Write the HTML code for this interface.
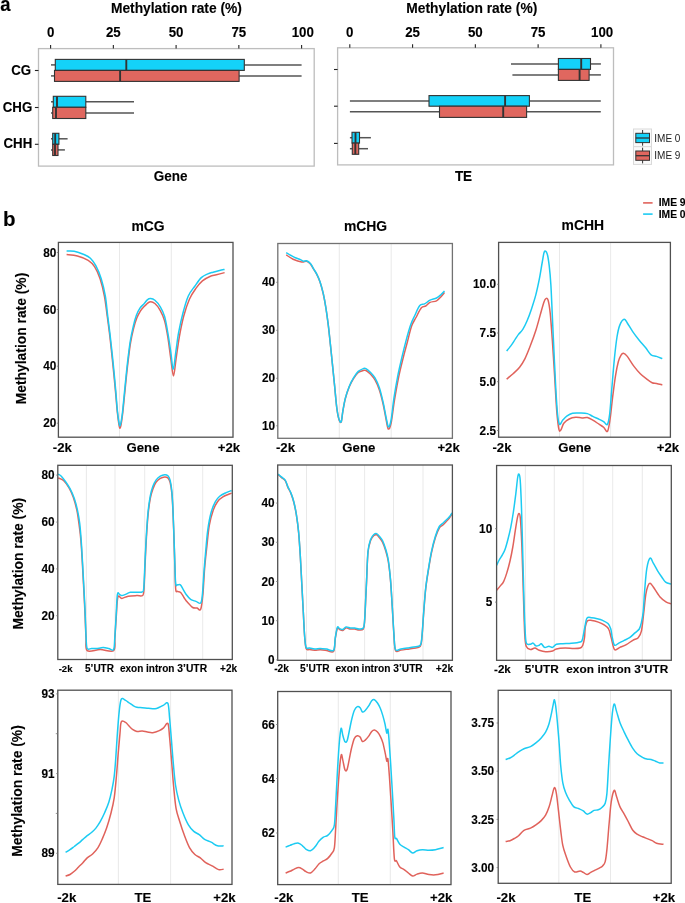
<!DOCTYPE html>
<html><head><meta charset="utf-8"><style>
html,body{margin:0;padding:0;background:#fff;width:685px;height:903px;overflow:hidden}
svg{display:block;will-change:transform}
text{font-family:"Liberation Sans", sans-serif}
text[font-weight=bold]{stroke:#000;stroke-width:0.12px;paint-order:stroke}
</style></head><body>
<svg width="685" height="903" viewBox="0 0 685 903" font-family='"Liberation Sans", sans-serif'>
<rect width="685" height="903" fill="#fff"/>
<text transform="translate(0.2,10.9) scale(1,1.12)" font-size="18.5" text-anchor="start" font-weight="bold" fill="#000" >a</text>
<text transform="translate(176.4,13) scale(1,1.05)" font-size="13.8" text-anchor="middle" font-weight="bold" fill="#000" >Methylation rate (%)</text>
<rect x="38.5" y="48.6" width="275.7" height="117.5" fill="none" stroke="#bdbdbd" stroke-width="1.3"/>
<line x1="50.6" y1="45.0" x2="50.6" y2="48.6" stroke="#222" stroke-width="1.1"/>
<text transform="translate(50.6,36.8) scale(1,1.09)" font-size="13.3" text-anchor="middle" font-weight="bold" fill="#000" >0</text>
<line x1="113.35000000000001" y1="45.0" x2="113.35000000000001" y2="48.6" stroke="#222" stroke-width="1.1"/>
<text transform="translate(113.35000000000001,36.8) scale(1,1.09)" font-size="13.3" text-anchor="middle" font-weight="bold" fill="#000" >25</text>
<line x1="176.10000000000002" y1="45.0" x2="176.10000000000002" y2="48.6" stroke="#222" stroke-width="1.1"/>
<text transform="translate(176.10000000000002,36.8) scale(1,1.09)" font-size="13.3" text-anchor="middle" font-weight="bold" fill="#000" >50</text>
<line x1="238.85000000000002" y1="45.0" x2="238.85000000000002" y2="48.6" stroke="#222" stroke-width="1.1"/>
<text transform="translate(238.85000000000002,36.8) scale(1,1.09)" font-size="13.3" text-anchor="middle" font-weight="bold" fill="#000" >75</text>
<line x1="301.6" y1="45.0" x2="301.6" y2="48.6" stroke="#222" stroke-width="1.1"/>
<text transform="translate(302.8,36.8) scale(1,1.09)" font-size="13.3" text-anchor="middle" font-weight="bold" fill="#000" >100</text>
<line x1="34.9" y1="70.5" x2="38.5" y2="70.5" stroke="#222" stroke-width="1.1"/>
<line x1="34.9" y1="107.5" x2="38.5" y2="107.5" stroke="#222" stroke-width="1.1"/>
<line x1="34.9" y1="144.3" x2="38.5" y2="144.3" stroke="#222" stroke-width="1.1"/>
<text transform="translate(170.6,181.4) scale(1,1.07)" font-size="13.5" text-anchor="middle" font-weight="bold" fill="#000" >Gene</text>
<line x1="51" y1="64.9" x2="55.3" y2="64.9" stroke="#555" stroke-width="1.5"/>
<line x1="244.3" y1="64.9" x2="301.6" y2="64.9" stroke="#555" stroke-width="1.5"/>
<rect x="55.3" y="59.4" width="189.0" height="11.0" fill="#14d2f9" stroke="#333333" stroke-width="1.1"/>
<line x1="126.3" y1="59.4" x2="126.3" y2="70.4" stroke="#333333" stroke-width="1.9"/>
<line x1="51" y1="75.9" x2="54.5" y2="75.9" stroke="#555" stroke-width="1.5"/>
<line x1="239.1" y1="75.9" x2="301.6" y2="75.9" stroke="#555" stroke-width="1.5"/>
<rect x="54.5" y="70.4" width="184.6" height="11.0" fill="#e0675f" stroke="#333333" stroke-width="1.1"/>
<line x1="120.1" y1="70.4" x2="120.1" y2="81.4" stroke="#333333" stroke-width="1.9"/>
<line x1="51" y1="101.8" x2="53.3" y2="101.8" stroke="#555" stroke-width="1.5"/>
<line x1="85.8" y1="101.8" x2="134" y2="101.8" stroke="#555" stroke-width="1.5"/>
<rect x="53.3" y="96.3" width="32.5" height="11.0" fill="#14d2f9" stroke="#333333" stroke-width="1.1"/>
<line x1="57.0" y1="96.3" x2="57.0" y2="107.3" stroke="#333333" stroke-width="1.9"/>
<line x1="51" y1="112.89999999999999" x2="52.7" y2="112.89999999999999" stroke="#555" stroke-width="1.5"/>
<line x1="85.8" y1="112.89999999999999" x2="134" y2="112.89999999999999" stroke="#555" stroke-width="1.5"/>
<rect x="52.7" y="107.3" width="33.099999999999994" height="11.2" fill="#e0675f" stroke="#333333" stroke-width="1.1"/>
<line x1="56.0" y1="107.3" x2="56.0" y2="118.5" stroke="#333333" stroke-width="1.9"/>
<line x1="51" y1="138.8" x2="52.7" y2="138.8" stroke="#555" stroke-width="1.5"/>
<line x1="58.9" y1="138.8" x2="67.6" y2="138.8" stroke="#555" stroke-width="1.5"/>
<rect x="52.7" y="133.3" width="6.199999999999996" height="11.0" fill="#14d2f9" stroke="#333333" stroke-width="1.1"/>
<line x1="55.2" y1="133.3" x2="55.2" y2="144.3" stroke="#333333" stroke-width="1.9"/>
<line x1="51" y1="149.9" x2="52.7" y2="149.9" stroke="#555" stroke-width="1.5"/>
<line x1="58.0" y1="149.9" x2="64.9" y2="149.9" stroke="#555" stroke-width="1.5"/>
<rect x="52.7" y="144.3" width="5.299999999999997" height="11.2" fill="#e0675f" stroke="#333333" stroke-width="1.1"/>
<line x1="55.0" y1="144.3" x2="55.0" y2="155.5" stroke="#333333" stroke-width="1.9"/>
<text transform="translate(31.1,75.2) scale(1,1.06)" font-size="13.3" text-anchor="end" font-weight="bold" fill="#000" >CG</text>
<text transform="translate(32.3,112) scale(1,1.06)" font-size="13.3" text-anchor="end" font-weight="bold" fill="#000" >CHG</text>
<text transform="translate(32.3,148.2) scale(1,1.06)" font-size="13.3" text-anchor="end" font-weight="bold" fill="#000" >CHH</text>
<text transform="translate(471.8,13) scale(1,1.05)" font-size="13.8" text-anchor="middle" font-weight="bold" fill="#000" >Methylation rate (%)</text>
<rect x="337.6" y="47.8" width="275.9" height="117.10000000000001" fill="none" stroke="#bdbdbd" stroke-width="1.3"/>
<line x1="349.8" y1="44.199999999999996" x2="349.8" y2="47.8" stroke="#222" stroke-width="1.1"/>
<text transform="translate(349.8,36.8) scale(1,1.09)" font-size="13.3" text-anchor="middle" font-weight="bold" fill="#000" >0</text>
<line x1="412.575" y1="44.199999999999996" x2="412.575" y2="47.8" stroke="#222" stroke-width="1.1"/>
<text transform="translate(412.575,36.8) scale(1,1.09)" font-size="13.3" text-anchor="middle" font-weight="bold" fill="#000" >25</text>
<line x1="475.35" y1="44.199999999999996" x2="475.35" y2="47.8" stroke="#222" stroke-width="1.1"/>
<text transform="translate(475.35,36.8) scale(1,1.09)" font-size="13.3" text-anchor="middle" font-weight="bold" fill="#000" >50</text>
<line x1="538.125" y1="44.199999999999996" x2="538.125" y2="47.8" stroke="#222" stroke-width="1.1"/>
<text transform="translate(538.125,36.8) scale(1,1.09)" font-size="13.3" text-anchor="middle" font-weight="bold" fill="#000" >75</text>
<line x1="600.9" y1="44.199999999999996" x2="600.9" y2="47.8" stroke="#222" stroke-width="1.1"/>
<text transform="translate(602.1,36.8) scale(1,1.09)" font-size="13.3" text-anchor="middle" font-weight="bold" fill="#000" >100</text>
<line x1="334.0" y1="69.5" x2="337.6" y2="69.5" stroke="#222" stroke-width="1.1"/>
<line x1="334.0" y1="106.2" x2="337.6" y2="106.2" stroke="#222" stroke-width="1.1"/>
<line x1="334.0" y1="143.4" x2="337.6" y2="143.4" stroke="#222" stroke-width="1.1"/>
<text transform="translate(463.5,181.4) scale(1,1.07)" font-size="13.5" text-anchor="middle" font-weight="bold" fill="#000" >TE</text>
<line x1="511" y1="63.95" x2="558.4" y2="63.95" stroke="#555" stroke-width="1.5"/>
<line x1="590.5" y1="63.95" x2="600.9" y2="63.95" stroke="#555" stroke-width="1.5"/>
<rect x="558.4" y="58.5" width="32.10000000000002" height="10.9" fill="#14d2f9" stroke="#333333" stroke-width="1.1"/>
<line x1="581.2" y1="58.5" x2="581.2" y2="69.4" stroke="#333333" stroke-width="1.9"/>
<line x1="512.4" y1="74.9" x2="558.4" y2="74.9" stroke="#555" stroke-width="1.5"/>
<line x1="589.1" y1="74.9" x2="600.9" y2="74.9" stroke="#555" stroke-width="1.5"/>
<rect x="558.4" y="69.4" width="30.700000000000045" height="11.0" fill="#e0675f" stroke="#333333" stroke-width="1.1"/>
<line x1="579.6" y1="69.4" x2="579.6" y2="80.4" stroke="#333333" stroke-width="1.9"/>
<line x1="349.9" y1="100.89999999999999" x2="429" y2="100.89999999999999" stroke="#555" stroke-width="1.5"/>
<line x1="529.4" y1="100.89999999999999" x2="600.8" y2="100.89999999999999" stroke="#555" stroke-width="1.5"/>
<rect x="429" y="95.6" width="100.39999999999998" height="10.6" fill="#14d2f9" stroke="#333333" stroke-width="1.1"/>
<line x1="505.1" y1="95.6" x2="505.1" y2="106.19999999999999" stroke="#333333" stroke-width="1.9"/>
<line x1="349.9" y1="111.8" x2="439.5" y2="111.8" stroke="#555" stroke-width="1.5"/>
<line x1="526.6" y1="111.8" x2="600.8" y2="111.8" stroke="#555" stroke-width="1.5"/>
<rect x="439.5" y="106.2" width="87.10000000000002" height="11.2" fill="#e0675f" stroke="#333333" stroke-width="1.1"/>
<line x1="503.2" y1="106.2" x2="503.2" y2="117.4" stroke="#333333" stroke-width="1.9"/>
<line x1="349.9" y1="137.70000000000002" x2="352" y2="137.70000000000002" stroke="#555" stroke-width="1.5"/>
<line x1="359.5" y1="137.70000000000002" x2="370.9" y2="137.70000000000002" stroke="#555" stroke-width="1.5"/>
<rect x="352" y="132.3" width="7.5" height="10.8" fill="#14d2f9" stroke="#333333" stroke-width="1.1"/>
<line x1="355.5" y1="132.3" x2="355.5" y2="143.10000000000002" stroke="#333333" stroke-width="1.9"/>
<line x1="349.9" y1="148.7" x2="352.3" y2="148.7" stroke="#555" stroke-width="1.5"/>
<line x1="358.7" y1="148.7" x2="368" y2="148.7" stroke="#555" stroke-width="1.5"/>
<rect x="352.3" y="143.1" width="6.399999999999977" height="11.2" fill="#e0675f" stroke="#333333" stroke-width="1.1"/>
<line x1="355.3" y1="143.1" x2="355.3" y2="154.29999999999998" stroke="#333333" stroke-width="1.9"/>
<rect x="633.5" y="129.0" width="18" height="17.7" fill="#fafafa" stroke="#d9d9d9" stroke-width="1"/>
<line x1="642.6" y1="130.0" x2="642.6" y2="145.7" stroke="#333333" stroke-width="1"/>
<rect x="635.8" y="133.3" width="13.7" height="9.3" fill="#14d2f9" stroke="#333333" stroke-width="1"/>
<line x1="635.8" y1="138.0" x2="649.5" y2="138.0" stroke="#333333" stroke-width="1.3"/>
<text x="654.3" y="141.6" font-size="10" text-anchor="start" font-weight="normal" fill="#222" >IME 0</text>
<rect x="633.5" y="146.7" width="18" height="17.7" fill="#fafafa" stroke="#d9d9d9" stroke-width="1"/>
<line x1="642.6" y1="147.7" x2="642.6" y2="163.39999999999998" stroke="#333333" stroke-width="1"/>
<rect x="635.8" y="151.0" width="13.7" height="9.3" fill="#e0675f" stroke="#333333" stroke-width="1"/>
<line x1="635.8" y1="155.7" x2="649.5" y2="155.7" stroke="#333333" stroke-width="1.3"/>
<text x="654.3" y="159.29999999999998" font-size="10" text-anchor="start" font-weight="normal" fill="#222" >IME 9</text>
<text x="2.9" y="225.8" font-size="20.5" text-anchor="start" font-weight="bold" fill="#000" >b</text>
<line x1="643.1" y1="202.9" x2="652.6" y2="202.9" stroke="#e0625b" stroke-width="1.6"/>
<line x1="643.1" y1="214.1" x2="652.6" y2="214.1" stroke="#1ccbf2" stroke-width="1.6"/>
<text x="658.7" y="205.9" font-size="10.3" text-anchor="start" font-weight="bold" fill="#000" >IME 9</text>
<text x="658.7" y="218.0" font-size="10.3" text-anchor="start" font-weight="bold" fill="#000" >IME 0</text>
<line x1="119.5" y1="242.4" x2="119.5" y2="437.2" stroke="#e3e3e3" stroke-width="0.8"/>
<line x1="171.3" y1="242.4" x2="171.3" y2="437.2" stroke="#e3e3e3" stroke-width="0.8"/>
<path d="M66.60,254.50 C68.40,254.75 73.80,255.03 77.40,256.00 C81.00,256.97 85.32,258.50 88.20,260.30 C91.08,262.10 92.72,263.73 94.70,266.80 C96.68,269.87 98.48,273.83 100.10,278.70 C101.72,283.57 103.23,289.92 104.40,296.00 C105.57,302.08 106.25,308.97 107.10,315.20 C107.95,321.43 108.73,327.08 109.50,333.40 C110.27,339.72 111.00,346.53 111.70,353.10 C112.40,359.67 113.05,366.22 113.70,372.80 C114.35,379.38 115.02,386.27 115.60,392.60 C116.18,398.93 116.65,405.48 117.20,410.80 C117.75,416.12 118.47,421.60 118.90,424.50 C119.33,427.40 119.45,428.12 119.80,428.20 C120.15,428.28 120.53,427.37 121.00,425.00 C121.47,422.63 122.02,418.92 122.60,414.00 C123.18,409.08 123.88,401.58 124.50,395.50 C125.12,389.42 125.67,383.50 126.30,377.50 C126.93,371.50 127.60,365.25 128.30,359.50 C129.00,353.75 129.62,348.20 130.50,343.00 C131.38,337.80 132.55,332.47 133.60,328.30 C134.65,324.13 135.70,320.83 136.80,318.00 C137.90,315.17 139.17,313.00 140.20,311.30 C141.23,309.60 141.45,309.35 143.00,307.80 C144.55,306.25 147.52,302.72 149.50,302.00 C151.48,301.28 153.10,302.07 154.90,303.50 C156.70,304.93 158.68,307.72 160.30,310.60 C161.92,313.48 163.35,316.40 164.60,320.80 C165.85,325.20 166.77,330.70 167.80,337.00 C168.83,343.30 169.85,352.10 170.80,358.60 C171.75,365.10 172.62,376.00 173.50,376.00 C174.38,376.00 175.13,365.10 176.10,358.60 C177.07,352.10 178.05,344.02 179.30,337.00 C180.55,329.98 181.92,322.80 183.60,316.50 C185.28,310.20 187.35,303.88 189.40,299.20 C191.45,294.52 193.73,291.45 195.90,288.40 C198.07,285.35 200.07,282.88 202.40,280.90 C204.73,278.92 207.57,277.52 209.90,276.50 C212.23,275.48 213.95,275.45 216.40,274.80 C218.85,274.15 223.23,272.97 224.60,272.60" fill="none" stroke="#e0625b" stroke-width="1.5" stroke-linejoin="round"/>
<path d="M66.60,251.10 C67.87,251.13 71.32,250.73 74.20,251.30 C77.08,251.87 81.20,253.35 83.90,254.50 C86.60,255.65 88.42,256.33 90.40,258.20 C92.38,260.07 94.00,262.28 95.80,265.70 C97.60,269.12 99.62,273.65 101.20,278.70 C102.78,283.75 104.23,289.92 105.30,296.00 C106.37,302.08 106.83,308.97 107.60,315.20 C108.37,321.43 109.15,327.08 109.90,333.40 C110.65,339.72 111.40,346.53 112.10,353.10 C112.80,359.67 113.47,366.22 114.10,372.80 C114.73,379.38 115.35,386.27 115.90,392.60 C116.45,398.93 116.88,405.75 117.40,410.80 C117.92,415.85 118.60,420.38 119.00,422.90 C119.40,425.42 119.48,425.90 119.80,425.90 C120.12,425.90 120.45,425.17 120.90,422.90 C121.35,420.63 121.93,417.10 122.50,412.30 C123.07,407.50 123.70,400.17 124.30,394.10 C124.90,388.03 125.47,381.97 126.10,375.90 C126.73,369.83 127.40,363.52 128.10,357.70 C128.80,351.88 129.42,346.32 130.30,341.00 C131.18,335.68 132.38,330.10 133.40,325.80 C134.42,321.50 135.33,318.12 136.40,315.20 C137.47,312.28 138.48,310.25 139.80,308.30 C141.12,306.35 143.05,304.92 144.30,303.50 C145.55,302.08 146.25,300.62 147.30,299.80 C148.35,298.98 149.33,298.52 150.60,298.60 C151.87,298.68 153.28,298.93 154.90,300.30 C156.52,301.67 158.68,304.10 160.30,306.80 C161.92,309.50 163.35,312.18 164.60,316.50 C165.85,320.82 166.77,326.77 167.80,332.70 C168.83,338.63 169.90,345.97 170.80,352.10 C171.70,358.23 172.37,369.50 173.20,369.50 C174.03,369.50 174.90,358.23 175.80,352.10 C176.70,345.97 177.42,339.18 178.60,332.70 C179.78,326.22 181.28,319.32 182.90,313.20 C184.52,307.08 186.32,300.50 188.30,296.00 C190.28,291.50 192.63,289.27 194.80,286.20 C196.97,283.13 199.13,279.65 201.30,277.60 C203.47,275.55 205.83,274.80 207.80,273.90 C209.77,273.00 211.13,272.77 213.10,272.20 C215.07,271.63 217.68,270.97 219.60,270.50 C221.52,270.03 223.77,269.58 224.60,269.40" fill="none" stroke="#1ccbf2" stroke-width="1.5" stroke-linejoin="round"/>
<rect x="58.4" y="242.4" width="174.6" height="194.79999999999998" fill="none" stroke="#505050" stroke-width="1.3"/>
<line x1="56.8" y1="252.5" x2="58.4" y2="252.5" stroke="#777" stroke-width="0.8"/>
<text transform="translate(56.3,256.6) scale(1,1.04)" font-size="11.8" text-anchor="end" font-weight="bold" fill="#000" >80</text>
<line x1="56.8" y1="309.5" x2="58.4" y2="309.5" stroke="#777" stroke-width="0.8"/>
<text transform="translate(56.3,313.6) scale(1,1.04)" font-size="11.8" text-anchor="end" font-weight="bold" fill="#000" >60</text>
<line x1="56.8" y1="366.2" x2="58.4" y2="366.2" stroke="#777" stroke-width="0.8"/>
<text transform="translate(56.3,370.3) scale(1,1.04)" font-size="11.8" text-anchor="end" font-weight="bold" fill="#000" >40</text>
<line x1="56.8" y1="423.2" x2="58.4" y2="423.2" stroke="#777" stroke-width="0.8"/>
<text transform="translate(56.3,427.3) scale(1,1.04)" font-size="11.8" text-anchor="end" font-weight="bold" fill="#000" >20</text>
<text x="62.4" y="451.6" font-size="13.2" text-anchor="middle" font-weight="bold" fill="#000" >-2k</text>
<text x="143" y="451.6" font-size="13.2" text-anchor="middle" font-weight="bold" fill="#000" >Gene</text>
<text x="229" y="451.6" font-size="13.2" text-anchor="middle" font-weight="bold" fill="#000" >+2k</text>
<text transform="translate(148,231.2) scale(1,1.06)" font-size="13.9" text-anchor="middle" font-weight="bold" fill="#000" >mCG</text>
<text transform="translate(26.4,338.5) rotate(-90)" font-size="13.85" text-anchor="middle" font-weight="bold">Methylation rate (%)</text>
<line x1="339.3" y1="243.5" x2="339.3" y2="438.3" stroke="#e3e3e3" stroke-width="0.8"/>
<line x1="391.2" y1="243.5" x2="391.2" y2="438.3" stroke="#e3e3e3" stroke-width="0.8"/>
<path d="M286.20,254.90 C287.35,255.62 290.52,258.02 293.10,259.20 C295.68,260.38 299.47,261.67 301.70,262.00 C303.93,262.33 305.05,260.87 306.50,261.20 C307.95,261.53 309.22,262.67 310.40,264.00 C311.58,265.33 312.52,267.43 313.60,269.20 C314.68,270.97 315.82,272.43 316.90,274.60 C317.98,276.77 319.03,278.97 320.10,282.20 C321.17,285.43 322.33,289.70 323.30,294.00 C324.27,298.30 325.07,302.78 325.90,308.00 C326.73,313.22 327.55,319.18 328.30,325.30 C329.05,331.42 329.72,338.22 330.40,344.70 C331.08,351.18 331.70,357.35 332.40,364.20 C333.10,371.05 333.88,378.62 334.60,385.80 C335.32,392.98 335.98,401.73 336.70,407.30 C337.42,412.87 338.15,416.75 338.90,419.20 C339.65,421.65 340.55,423.25 341.20,422.00 C341.85,420.75 342.12,415.58 342.80,411.70 C343.48,407.82 344.23,402.82 345.30,398.70 C346.37,394.58 347.83,390.35 349.20,387.00 C350.57,383.65 351.98,381.02 353.50,378.60 C355.02,376.18 356.67,373.85 358.30,372.50 C359.93,371.15 362.02,370.83 363.30,370.50 C364.58,370.17 364.78,369.88 366.00,370.50 C367.22,371.12 369.10,372.62 370.60,374.20 C372.10,375.78 373.55,377.40 375.00,380.00 C376.45,382.60 377.93,385.72 379.30,389.80 C380.67,393.88 382.05,399.47 383.20,404.50 C384.35,409.53 385.35,415.92 386.20,420.00 C387.05,424.08 387.48,428.47 388.30,429.00 C389.12,429.53 390.08,427.93 391.10,423.20 C392.12,418.47 393.13,408.33 394.40,400.60 C395.67,392.87 397.27,383.82 398.70,376.80 C400.13,369.78 401.57,364.25 403.00,358.50 C404.43,352.75 405.87,347.70 407.30,342.30 C408.73,336.90 410.15,330.23 411.60,326.10 C413.05,321.97 414.37,320.55 416.00,317.50 C417.63,314.45 419.78,309.72 421.40,307.80 C423.02,305.88 424.27,306.90 425.70,306.00 C427.13,305.10 428.20,303.27 430.00,302.40 C431.80,301.53 434.70,301.70 436.50,300.80 C438.30,299.90 439.47,298.37 440.80,297.00 C442.13,295.63 443.88,293.33 444.50,292.60" fill="none" stroke="#e0625b" stroke-width="1.5" stroke-linejoin="round"/>
<path d="M286.20,252.70 C287.00,253.17 289.48,254.67 291.00,255.50 C292.52,256.33 293.87,257.08 295.30,257.70 C296.73,258.32 298.23,258.60 299.60,259.20 C300.97,259.80 302.35,261.05 303.50,261.30 C304.65,261.55 305.35,260.33 306.50,260.70 C307.65,261.07 309.22,262.13 310.40,263.50 C311.58,264.87 312.52,267.10 313.60,268.90 C314.68,270.70 315.82,272.13 316.90,274.30 C317.98,276.47 319.03,278.67 320.10,281.90 C321.17,285.13 322.33,289.38 323.30,293.70 C324.27,298.02 325.07,302.58 325.90,307.80 C326.73,313.02 327.55,318.90 328.30,325.00 C329.05,331.10 329.72,337.92 330.40,344.40 C331.08,350.88 331.70,357.05 332.40,363.90 C333.10,370.75 333.88,378.32 334.60,385.50 C335.32,392.68 335.98,401.43 336.70,407.00 C337.42,412.57 338.15,416.45 338.90,418.90 C339.65,421.35 340.55,422.95 341.20,421.70 C341.85,420.45 342.12,415.28 342.80,411.40 C343.48,407.52 344.23,402.55 345.30,398.40 C346.37,394.25 347.83,389.92 349.20,386.50 C350.57,383.08 351.98,380.42 353.50,377.90 C355.02,375.38 356.67,372.95 358.30,371.40 C359.93,369.85 362.03,369.07 363.30,368.60 C364.57,368.13 364.68,367.95 365.90,368.60 C367.12,369.25 369.08,370.95 370.60,372.50 C372.12,374.05 373.55,375.38 375.00,377.90 C376.45,380.42 377.93,383.47 379.30,387.60 C380.67,391.73 382.05,397.67 383.20,402.70 C384.35,407.73 385.32,413.77 386.20,417.80 C387.08,421.83 387.68,426.53 388.50,426.90 C389.32,427.27 390.20,424.75 391.10,420.00 C392.00,415.25 392.82,405.60 393.90,398.40 C394.98,391.20 396.27,383.63 397.60,376.80 C398.93,369.97 400.47,363.52 401.90,357.40 C403.33,351.28 404.75,345.50 406.20,340.10 C407.65,334.70 409.15,329.13 410.60,325.00 C412.05,320.87 413.37,318.53 414.90,315.30 C416.43,312.07 418.18,307.50 419.80,305.60 C421.42,303.70 422.90,304.80 424.60,303.90 C426.30,303.00 428.02,301.18 430.00,300.20 C431.98,299.22 434.70,298.90 436.50,298.00 C438.30,297.10 439.47,295.98 440.80,294.80 C442.13,293.62 443.88,291.55 444.50,290.90" fill="none" stroke="#1ccbf2" stroke-width="1.5" stroke-linejoin="round"/>
<rect x="277.8" y="243.5" width="174.59999999999997" height="194.8" fill="none" stroke="#727272" stroke-width="1.3"/>
<line x1="276.2" y1="282.3" x2="277.8" y2="282.3" stroke="#777" stroke-width="0.8"/>
<text transform="translate(275,286.40000000000003) scale(1,1.04)" font-size="11.8" text-anchor="end" font-weight="bold" fill="#000" >40</text>
<line x1="276.2" y1="330.3" x2="277.8" y2="330.3" stroke="#777" stroke-width="0.8"/>
<text transform="translate(275,334.40000000000003) scale(1,1.04)" font-size="11.8" text-anchor="end" font-weight="bold" fill="#000" >30</text>
<line x1="276.2" y1="378.3" x2="277.8" y2="378.3" stroke="#777" stroke-width="0.8"/>
<text transform="translate(275,382.40000000000003) scale(1,1.04)" font-size="11.8" text-anchor="end" font-weight="bold" fill="#000" >20</text>
<line x1="276.2" y1="425.8" x2="277.8" y2="425.8" stroke="#777" stroke-width="0.8"/>
<text transform="translate(275,429.90000000000003) scale(1,1.04)" font-size="11.8" text-anchor="end" font-weight="bold" fill="#000" >10</text>
<text x="285.5" y="451.8" font-size="13.2" text-anchor="middle" font-weight="bold" fill="#000" >-2k</text>
<text x="358.8" y="451.8" font-size="13.2" text-anchor="middle" font-weight="bold" fill="#000" >Gene</text>
<text x="448.6" y="451.8" font-size="13.2" text-anchor="middle" font-weight="bold" fill="#000" >+2k</text>
<text transform="translate(365.5,231.3) scale(1,1.06)" font-size="13.9" text-anchor="middle" font-weight="bold" fill="#000" >mCHG</text>
<line x1="559.5" y1="242.4" x2="559.5" y2="437.2" stroke="#e3e3e3" stroke-width="0.8"/>
<line x1="610.6" y1="242.4" x2="610.6" y2="437.2" stroke="#e3e3e3" stroke-width="0.8"/>
<path d="M506.60,379.10 C507.68,378.20 510.93,375.68 513.10,373.70 C515.27,371.72 517.62,369.72 519.60,367.20 C521.58,364.68 523.20,362.20 525.00,358.60 C526.80,355.00 528.60,350.28 530.40,345.60 C532.20,340.92 534.18,335.53 535.80,330.50 C537.42,325.47 538.77,320.08 540.10,315.40 C541.43,310.72 542.83,305.20 543.80,302.40 C544.77,299.60 545.18,298.95 545.90,298.60 C546.62,298.25 547.38,297.87 548.10,300.30 C548.82,302.73 549.48,306.37 550.20,313.20 C550.92,320.03 551.67,330.87 552.40,341.30 C553.13,351.73 553.88,364.28 554.60,375.80 C555.32,387.32 555.98,401.47 556.70,410.40 C557.42,419.33 558.18,426.17 558.90,429.40 C559.62,432.63 560.18,430.82 561.00,429.80 C561.82,428.78 562.43,425.10 563.80,423.30 C565.17,421.50 567.22,420.00 569.20,419.00 C571.18,418.00 573.57,417.48 575.70,417.30 C577.83,417.12 580.05,417.87 582.00,417.90 C583.95,417.93 585.60,417.13 587.40,417.50 C589.20,417.87 590.82,418.95 592.80,420.10 C594.78,421.25 597.50,423.22 599.30,424.40 C601.10,425.58 602.23,426.05 603.60,427.20 C604.97,428.35 606.42,432.67 607.50,431.30 C608.58,429.93 609.25,424.65 610.10,419.00 C610.95,413.35 611.70,404.60 612.60,397.40 C613.50,390.20 614.55,381.73 615.50,375.80 C616.45,369.87 617.40,365.22 618.30,361.80 C619.20,358.38 620.05,356.73 620.90,355.30 C621.75,353.87 622.33,353.02 623.40,353.20 C624.47,353.38 625.57,354.25 627.30,356.40 C629.03,358.55 631.63,363.22 633.80,366.10 C635.97,368.98 638.13,371.53 640.30,373.70 C642.47,375.87 644.83,377.60 646.80,379.10 C648.77,380.60 650.48,381.98 652.10,382.70 C653.72,383.42 654.80,383.03 656.50,383.40 C658.20,383.77 661.33,384.65 662.30,384.90" fill="none" stroke="#e0625b" stroke-width="1.5" stroke-linejoin="round"/>
<path d="M506.60,351.00 C507.33,350.10 509.55,347.58 511.00,345.60 C512.45,343.62 514.05,340.97 515.30,339.10 C516.55,337.23 517.25,336.02 518.50,334.40 C519.75,332.78 521.37,331.67 522.80,329.40 C524.23,327.13 525.65,324.22 527.10,320.80 C528.55,317.38 530.05,313.22 531.50,308.90 C532.95,304.58 534.48,299.93 535.80,294.90 C537.12,289.87 538.33,284.10 539.40,278.70 C540.47,273.30 541.37,267.00 542.20,262.50 C543.03,258.00 543.57,253.13 544.40,251.70 C545.23,250.27 546.40,251.57 547.20,253.90 C548.00,256.23 548.58,260.48 549.20,265.70 C549.82,270.92 550.37,276.57 550.90,285.20 C551.43,293.83 551.87,306.00 552.40,317.50 C552.93,329.00 553.53,342.32 554.10,354.20 C554.67,366.08 555.22,378.72 555.80,388.80 C556.38,398.88 556.98,408.77 557.60,414.70 C558.22,420.63 558.63,423.50 559.50,424.40 C560.37,425.30 561.53,421.53 562.80,420.10 C564.07,418.67 565.48,416.95 567.10,415.80 C568.72,414.65 570.35,413.67 572.50,413.20 C574.65,412.73 577.52,412.93 580.00,413.00 C582.48,413.07 585.27,413.03 587.40,413.60 C589.53,414.17 590.82,415.43 592.80,416.40 C594.78,417.37 597.50,418.53 599.30,419.40 C601.10,420.27 602.27,420.77 603.60,421.60 C604.93,422.43 606.30,425.55 607.30,424.40 C608.30,423.25 608.85,420.63 609.60,414.70 C610.35,408.77 611.00,398.15 611.80,388.80 C612.60,379.45 613.53,367.23 614.40,358.60 C615.27,349.97 616.10,342.58 617.00,337.00 C617.90,331.42 618.62,328.05 619.80,325.10 C620.98,322.15 622.85,319.65 624.10,319.30 C625.35,318.95 625.87,320.95 627.30,323.00 C628.73,325.05 630.72,328.73 632.70,331.60 C634.68,334.47 637.03,337.50 639.20,340.20 C641.37,342.90 643.72,345.35 645.70,347.80 C647.68,350.25 649.30,353.47 651.10,354.90 C652.90,356.33 654.63,355.78 656.50,356.40 C658.37,357.02 661.33,358.23 662.30,358.60" fill="none" stroke="#1ccbf2" stroke-width="1.5" stroke-linejoin="round"/>
<rect x="498.6" y="242.4" width="171.79999999999995" height="194.79999999999998" fill="none" stroke="#505050" stroke-width="1.3"/>
<line x1="497.0" y1="284.3" x2="498.6" y2="284.3" stroke="#777" stroke-width="0.8"/>
<text transform="translate(496,288.40000000000003) scale(1,1.04)" font-size="11.8" text-anchor="end" font-weight="bold" fill="#000" >10.0</text>
<line x1="497.0" y1="333" x2="498.6" y2="333" stroke="#777" stroke-width="0.8"/>
<text transform="translate(496,337.1) scale(1,1.04)" font-size="11.8" text-anchor="end" font-weight="bold" fill="#000" >7.5</text>
<line x1="497.0" y1="381.7" x2="498.6" y2="381.7" stroke="#777" stroke-width="0.8"/>
<text transform="translate(496,385.8) scale(1,1.04)" font-size="11.8" text-anchor="end" font-weight="bold" fill="#000" >5.0</text>
<line x1="497.0" y1="430.5" x2="498.6" y2="430.5" stroke="#777" stroke-width="0.8"/>
<text transform="translate(496,434.6) scale(1,1.04)" font-size="11.8" text-anchor="end" font-weight="bold" fill="#000" >2.5</text>
<text x="502" y="452.4" font-size="13.2" text-anchor="middle" font-weight="bold" fill="#000" >-2k</text>
<text x="574.7" y="452.4" font-size="13.2" text-anchor="middle" font-weight="bold" fill="#000" >Gene</text>
<text x="667.9" y="452.4" font-size="13.2" text-anchor="middle" font-weight="bold" fill="#000" >+2k</text>
<text transform="translate(582.8,229.5) scale(1,1.06)" font-size="13.9" text-anchor="middle" font-weight="bold" fill="#000" >mCHH</text>
<line x1="86.4" y1="465.3" x2="86.4" y2="659.5" stroke="#e3e3e3" stroke-width="0.8"/>
<line x1="115" y1="465.3" x2="115" y2="659.5" stroke="#e3e3e3" stroke-width="0.8"/>
<line x1="144.7" y1="465.3" x2="144.7" y2="659.5" stroke="#e3e3e3" stroke-width="0.8"/>
<line x1="173.5" y1="465.3" x2="173.5" y2="659.5" stroke="#e3e3e3" stroke-width="0.8"/>
<line x1="202.7" y1="465.3" x2="202.7" y2="659.5" stroke="#e3e3e3" stroke-width="0.8"/>
<path d="M58.10,477.90 C59.00,478.33 61.70,478.87 63.50,480.50 C65.30,482.13 67.28,484.95 68.90,487.70 C70.52,490.45 71.87,493.23 73.20,497.00 C74.53,500.77 75.90,505.57 76.90,510.30 C77.90,515.03 78.53,520.37 79.20,525.40 C79.87,530.43 80.38,534.38 80.90,540.50 C81.42,546.62 81.85,554.53 82.30,562.10 C82.75,569.67 83.17,577.62 83.60,585.90 C84.03,594.18 84.50,603.17 84.90,611.80 C85.30,620.43 85.62,631.23 86.00,637.70 C86.38,644.17 84.83,648.63 87.20,650.60 C89.57,652.57 95.80,649.50 100.20,649.50 C104.60,649.50 111.15,652.57 113.60,650.60 C116.05,648.63 114.45,643.45 114.90,637.70 C115.35,631.95 115.80,622.87 116.30,616.10 C116.80,609.33 116.98,600.05 117.90,597.10 C118.82,594.15 120.08,598.55 121.80,598.40 C123.52,598.25 125.68,596.67 128.20,596.20 C130.72,595.73 134.55,595.70 136.90,595.60 C139.25,595.50 141.13,596.45 142.30,595.60 C143.47,594.75 143.43,595.77 143.90,590.50 C144.37,585.23 144.68,572.75 145.10,564.00 C145.52,555.25 145.90,546.25 146.40,538.00 C146.90,529.75 147.45,521.12 148.10,514.50 C148.75,507.88 149.50,502.55 150.30,498.30 C151.10,494.05 151.95,491.67 152.90,489.00 C153.85,486.33 154.77,484.07 156.00,482.30 C157.23,480.53 158.85,479.30 160.30,478.40 C161.75,477.50 163.43,476.97 164.70,476.90 C165.97,476.83 167.00,477.10 167.90,478.00 C168.80,478.90 169.45,479.80 170.10,482.30 C170.75,484.80 171.33,488.35 171.80,493.00 C172.27,497.65 172.55,503.02 172.90,510.20 C173.25,517.38 173.58,527.12 173.90,536.10 C174.22,545.08 174.50,555.27 174.80,564.10 C175.10,572.93 175.23,584.57 175.70,589.10 C176.17,593.63 176.73,590.68 177.60,591.30 C178.47,591.92 179.82,591.73 180.90,592.80 C181.98,593.87 183.03,596.15 184.10,597.70 C185.17,599.25 185.87,600.47 187.30,602.10 C188.73,603.73 191.08,606.50 192.70,607.50 C194.32,608.50 195.67,607.82 197.00,608.10 C198.33,608.38 199.72,611.47 200.70,609.20 C201.68,606.93 202.25,601.27 202.90,594.50 C203.55,587.73 203.95,576.52 204.60,568.60 C205.25,560.68 206.02,554.20 206.80,547.00 C207.58,539.80 208.23,531.52 209.30,525.40 C210.37,519.28 211.83,514.25 213.20,510.30 C214.57,506.35 215.88,503.93 217.50,501.70 C219.12,499.47 220.55,498.33 222.90,496.90 C225.25,495.47 230.15,493.73 231.60,493.10" fill="none" stroke="#e0625b" stroke-width="1.5" stroke-linejoin="round"/>
<path d="M58.10,474.10 C58.63,474.45 60.05,474.92 61.30,476.20 C62.55,477.48 64.15,479.72 65.60,481.80 C67.05,483.88 68.55,485.92 70.00,488.70 C71.45,491.48 73.05,494.90 74.30,498.50 C75.55,502.10 76.60,506.17 77.50,510.30 C78.40,514.43 79.08,518.27 79.70,523.30 C80.32,528.33 80.73,534.03 81.20,540.50 C81.67,546.97 82.07,554.53 82.50,562.10 C82.93,569.67 83.37,577.62 83.80,585.90 C84.23,594.18 84.72,603.17 85.10,611.80 C85.48,620.43 85.75,631.58 86.10,637.70 C86.45,643.82 86.30,646.70 87.20,648.50 C88.10,650.30 90.05,648.50 91.50,648.50 C92.95,648.50 94.45,648.58 95.90,648.50 C97.35,648.42 98.95,648.15 100.20,648.00 C101.45,647.85 101.97,647.52 103.40,647.60 C104.83,647.68 107.10,648.18 108.80,648.50 C110.50,648.82 112.60,651.30 113.60,649.50 C114.60,647.70 114.38,643.27 114.80,637.70 C115.22,632.13 115.67,623.30 116.10,616.10 C116.53,608.90 116.82,598.10 117.40,594.50 C117.98,590.90 118.87,594.32 119.60,594.50 C120.33,594.68 120.72,595.67 121.80,595.60 C122.88,595.53 124.67,594.65 126.10,594.10 C127.53,593.55 128.60,592.60 130.40,592.30 C132.20,592.00 134.92,592.37 136.90,592.30 C138.88,592.23 141.15,592.70 142.30,591.90 C143.45,591.10 143.35,592.47 143.80,587.50 C144.25,582.53 144.58,570.65 145.00,562.10 C145.42,553.55 145.80,544.47 146.30,536.20 C146.80,527.93 147.35,519.15 148.00,512.50 C148.65,505.85 149.40,500.62 150.20,496.30 C151.00,491.98 151.83,489.30 152.80,486.60 C153.77,483.90 154.75,481.83 156.00,480.10 C157.25,478.37 158.85,477.10 160.30,476.20 C161.75,475.30 163.43,474.77 164.70,474.70 C165.97,474.63 167.00,474.90 167.90,475.80 C168.80,476.70 169.45,477.58 170.10,480.10 C170.75,482.62 171.33,486.22 171.80,490.90 C172.27,495.58 172.55,501.00 172.90,508.20 C173.25,515.40 173.58,525.12 173.90,534.10 C174.22,543.08 174.50,553.83 174.80,562.10 C175.10,570.37 175.23,579.92 175.70,583.70 C176.17,587.48 176.82,584.62 177.60,584.80 C178.38,584.98 179.50,584.08 180.40,584.80 C181.30,585.52 182.03,587.48 183.00,589.10 C183.97,590.72 184.93,592.80 186.20,594.50 C187.47,596.20 188.97,598.15 190.60,599.30 C192.23,600.45 194.32,600.77 196.00,601.40 C197.68,602.03 199.63,604.25 200.70,603.10 C201.77,601.95 201.87,599.53 202.40,594.50 C202.93,589.47 203.35,580.10 203.90,572.90 C204.45,565.70 205.05,558.48 205.70,551.30 C206.35,544.12 206.90,536.27 207.80,529.80 C208.70,523.33 209.83,517.18 211.10,512.50 C212.37,507.82 213.97,504.40 215.40,501.70 C216.83,499.00 217.90,497.82 219.70,496.30 C221.50,494.78 224.22,493.57 226.20,492.60 C228.18,491.63 230.70,490.85 231.60,490.50" fill="none" stroke="#1ccbf2" stroke-width="1.5" stroke-linejoin="round"/>
<rect x="57.8" y="465.3" width="174.5" height="194.2" fill="none" stroke="#505050" stroke-width="1.3"/>
<line x1="56.199999999999996" y1="475.1" x2="57.8" y2="475.1" stroke="#777" stroke-width="0.8"/>
<text transform="translate(54.5,479.20000000000005) scale(1,1.04)" font-size="11.8" text-anchor="end" font-weight="bold" fill="#000" >80</text>
<line x1="56.199999999999996" y1="522.1" x2="57.8" y2="522.1" stroke="#777" stroke-width="0.8"/>
<text transform="translate(54.5,526.2) scale(1,1.04)" font-size="11.8" text-anchor="end" font-weight="bold" fill="#000" >60</text>
<line x1="56.199999999999996" y1="568.9" x2="57.8" y2="568.9" stroke="#777" stroke-width="0.8"/>
<text transform="translate(54.5,573.0) scale(1,1.04)" font-size="11.8" text-anchor="end" font-weight="bold" fill="#000" >40</text>
<line x1="56.199999999999996" y1="615.7" x2="57.8" y2="615.7" stroke="#777" stroke-width="0.8"/>
<text transform="translate(54.5,619.8000000000001) scale(1,1.04)" font-size="11.8" text-anchor="end" font-weight="bold" fill="#000" >20</text>
<text x="65.6" y="671.9" font-size="9.6" text-anchor="middle" font-weight="bold" fill="#000" >-2k</text>
<text x="99.5" y="671.9" font-size="10" text-anchor="middle" font-weight="bold" fill="#000" >5’UTR</text>
<text x="131.6" y="671.9" font-size="10" text-anchor="middle" font-weight="bold" fill="#000" >exon</text>
<text x="160.2" y="671.9" font-size="10" text-anchor="middle" font-weight="bold" fill="#000" >intron</text>
<text x="192.2" y="671.9" font-size="10.3" text-anchor="middle" font-weight="bold" fill="#000" >3’UTR</text>
<text x="228.6" y="671.9" font-size="10" text-anchor="middle" font-weight="bold" fill="#000" >+2k</text>
<text transform="translate(22.7,563.7) rotate(-90)" font-size="13.85" text-anchor="middle" font-weight="bold">Methylation rate (%)</text>
<line x1="306.5" y1="465.0" x2="306.5" y2="660.3" stroke="#e3e3e3" stroke-width="0.8"/>
<line x1="335.4" y1="465.0" x2="335.4" y2="660.3" stroke="#e3e3e3" stroke-width="0.8"/>
<line x1="364.6" y1="465.0" x2="364.6" y2="660.3" stroke="#e3e3e3" stroke-width="0.8"/>
<line x1="393.5" y1="465.0" x2="393.5" y2="660.3" stroke="#e3e3e3" stroke-width="0.8"/>
<line x1="423" y1="465.0" x2="423" y2="660.3" stroke="#e3e3e3" stroke-width="0.8"/>
<path d="M278.10,474.60 C278.63,475.07 280.12,476.40 281.30,477.40 C282.48,478.40 284.12,478.98 285.20,480.60 C286.28,482.22 286.83,484.93 287.80,487.10 C288.77,489.27 290.00,491.08 291.00,493.60 C292.00,496.12 292.90,498.62 293.80,502.20 C294.70,505.78 295.60,510.07 296.40,515.10 C297.20,520.13 297.95,525.55 298.60,532.40 C299.25,539.25 299.77,547.57 300.30,556.20 C300.83,564.83 301.30,574.85 301.80,584.20 C302.30,593.55 302.83,603.67 303.30,612.30 C303.77,620.93 304.13,629.95 304.60,636.00 C305.07,642.05 305.30,646.35 306.10,648.60 C306.90,650.85 307.95,649.23 309.40,649.50 C310.85,649.77 313.00,650.15 314.80,650.20 C316.60,650.25 318.23,649.77 320.20,649.80 C322.17,649.83 324.37,650.15 326.60,650.40 C328.83,650.65 332.15,653.28 333.60,651.30 C335.05,649.32 334.67,642.33 335.30,638.50 C335.93,634.67 336.68,629.78 337.40,628.30 C338.12,626.82 338.70,629.23 339.60,629.60 C340.50,629.97 341.72,630.78 342.80,630.50 C343.88,630.22 344.83,628.15 346.10,627.90 C347.37,627.65 348.97,628.82 350.40,629.00 C351.83,629.18 353.27,628.83 354.70,629.00 C356.13,629.17 357.57,630.00 359.00,630.00 C360.43,630.00 362.37,630.43 363.30,629.00 C364.23,627.57 364.17,626.98 364.60,621.40 C365.03,615.82 365.57,602.23 365.90,595.50 C366.23,588.77 366.25,588.20 366.60,581.00 C366.95,573.80 367.33,559.05 368.00,552.30 C368.67,545.55 369.62,543.30 370.60,540.50 C371.58,537.70 372.88,536.45 373.90,535.50 C374.92,534.55 375.80,534.45 376.70,534.80 C377.60,535.15 378.33,536.37 379.30,537.60 C380.27,538.83 381.43,540.02 382.50,542.20 C383.57,544.38 384.73,547.48 385.70,550.70 C386.67,553.92 387.50,556.55 388.30,561.50 C389.10,566.45 389.85,572.93 390.50,580.40 C391.15,587.87 391.63,597.30 392.20,606.30 C392.77,615.30 393.35,627.03 393.90,634.40 C394.45,641.77 394.33,647.88 395.50,650.50 C396.67,653.12 398.93,650.32 400.90,650.10 C402.87,649.88 405.15,649.52 407.30,649.20 C409.45,648.88 411.63,648.67 413.80,648.20 C415.97,647.73 418.93,648.35 420.30,646.40 C421.67,644.45 421.43,642.10 422.00,636.50 C422.57,630.90 423.08,620.72 423.70,612.80 C424.32,604.88 424.90,596.20 425.70,589.00 C426.50,581.80 427.53,575.67 428.50,569.60 C429.47,563.53 430.35,557.95 431.50,552.60 C432.65,547.25 434.10,541.60 435.40,537.50 C436.70,533.40 438.05,530.08 439.30,528.00 C440.55,525.92 441.75,526.08 442.90,525.00 C444.05,523.92 445.12,522.67 446.20,521.50 C447.28,520.33 448.43,519.25 449.40,518.00 C450.37,516.75 451.57,514.67 452.00,514.00" fill="none" stroke="#e0625b" stroke-width="1.5" stroke-linejoin="round"/>
<path d="M278.10,474.10 C278.63,474.57 280.12,475.90 281.30,476.90 C282.48,477.90 284.12,478.48 285.20,480.10 C286.28,481.72 286.83,484.43 287.80,486.60 C288.77,488.77 290.00,490.58 291.00,493.10 C292.00,495.62 292.90,498.12 293.80,501.70 C294.70,505.28 295.60,509.57 296.40,514.60 C297.20,519.63 297.95,525.05 298.60,531.90 C299.25,538.75 299.77,547.07 300.30,555.70 C300.83,564.33 301.30,574.35 301.80,583.70 C302.30,593.05 302.83,603.17 303.30,611.80 C303.77,620.43 304.13,629.57 304.60,635.50 C305.07,641.43 305.30,645.32 306.10,647.40 C306.90,649.48 307.95,647.75 309.40,648.00 C310.85,648.25 313.00,648.82 314.80,648.90 C316.60,648.98 318.23,648.47 320.20,648.50 C322.17,648.53 324.37,648.82 326.60,649.10 C328.83,649.38 332.15,652.10 333.60,650.20 C335.05,648.30 334.67,641.52 335.30,637.70 C335.93,633.88 336.68,628.82 337.40,627.30 C338.12,625.78 338.70,628.23 339.60,628.60 C340.50,628.97 341.72,629.78 342.80,629.50 C343.88,629.22 344.83,627.15 346.10,626.90 C347.37,626.65 348.97,627.82 350.40,628.00 C351.83,628.18 353.27,627.83 354.70,628.00 C356.13,628.17 357.57,629.00 359.00,629.00 C360.43,629.00 362.37,629.43 363.30,628.00 C364.23,626.57 364.17,625.98 364.60,620.40 C365.03,614.82 365.57,601.23 365.90,594.50 C366.23,587.77 366.25,587.20 366.60,580.00 C366.95,572.80 367.33,558.05 368.00,551.30 C368.67,544.55 369.62,542.30 370.60,539.50 C371.58,536.70 372.88,535.48 373.90,534.50 C374.92,533.52 375.80,533.32 376.70,533.60 C377.60,533.88 378.33,535.05 379.30,536.20 C380.27,537.35 381.43,538.33 382.50,540.50 C383.57,542.67 384.73,545.95 385.70,549.20 C386.67,552.45 387.50,554.97 388.30,560.00 C389.10,565.03 389.85,571.85 390.50,579.40 C391.15,586.95 391.63,596.30 392.20,605.30 C392.77,614.30 393.35,626.03 393.90,633.40 C394.45,640.77 394.33,646.92 395.50,649.50 C396.67,652.08 398.93,649.15 400.90,648.90 C402.87,648.65 405.15,648.32 407.30,648.00 C409.45,647.68 411.63,647.47 413.80,647.00 C415.97,646.53 418.93,647.12 420.30,645.20 C421.67,643.28 421.43,641.07 422.00,635.50 C422.57,629.93 423.08,619.72 423.70,611.80 C424.32,603.88 424.90,595.20 425.70,588.00 C426.50,580.80 427.53,574.72 428.50,568.60 C429.47,562.48 430.35,556.70 431.50,551.30 C432.65,545.90 434.10,540.33 435.40,536.20 C436.70,532.07 438.05,528.65 439.30,526.50 C440.55,524.35 441.75,524.38 442.90,523.30 C444.05,522.22 445.12,521.08 446.20,520.00 C447.28,518.92 448.43,517.98 449.40,516.80 C450.37,515.62 451.57,513.55 452.00,512.90" fill="none" stroke="#1ccbf2" stroke-width="1.5" stroke-linejoin="round"/>
<rect x="277.7" y="465.0" width="174.7" height="195.29999999999995" fill="none" stroke="#505050" stroke-width="1.3"/>
<line x1="276.09999999999997" y1="503.1" x2="277.7" y2="503.1" stroke="#777" stroke-width="0.8"/>
<text transform="translate(274.5,507.20000000000005) scale(1,1.04)" font-size="11.8" text-anchor="end" font-weight="bold" fill="#000" >40</text>
<line x1="276.09999999999997" y1="542.3" x2="277.7" y2="542.3" stroke="#777" stroke-width="0.8"/>
<text transform="translate(274.5,546.4) scale(1,1.04)" font-size="11.8" text-anchor="end" font-weight="bold" fill="#000" >30</text>
<line x1="276.09999999999997" y1="581.5" x2="277.7" y2="581.5" stroke="#777" stroke-width="0.8"/>
<text transform="translate(274.5,585.6) scale(1,1.04)" font-size="11.8" text-anchor="end" font-weight="bold" fill="#000" >20</text>
<line x1="276.09999999999997" y1="620.7" x2="277.7" y2="620.7" stroke="#777" stroke-width="0.8"/>
<text transform="translate(274.5,624.8000000000001) scale(1,1.04)" font-size="11.8" text-anchor="end" font-weight="bold" fill="#000" >10</text>
<line x1="276.09999999999997" y1="659.9" x2="277.7" y2="659.9" stroke="#777" stroke-width="0.8"/>
<text transform="translate(274.5,664.0) scale(1,1.04)" font-size="11.8" text-anchor="end" font-weight="bold" fill="#000" >0</text>
<text x="281.5" y="671.9" font-size="10.2" text-anchor="middle" font-weight="bold" fill="#000" >-2k</text>
<text x="314.8" y="671.9" font-size="10.2" text-anchor="middle" font-weight="bold" fill="#000" >5’UTR</text>
<text x="347.3" y="671.9" font-size="10.2" text-anchor="middle" font-weight="bold" fill="#000" >exon</text>
<text x="376" y="671.9" font-size="10.2" text-anchor="middle" font-weight="bold" fill="#000" >intron</text>
<text x="408" y="671.9" font-size="10.2" text-anchor="middle" font-weight="bold" fill="#000" >3’UTR</text>
<text x="444.5" y="671.9" font-size="10.2" text-anchor="middle" font-weight="bold" fill="#000" >+2k</text>
<line x1="525.4" y1="465.5" x2="525.4" y2="660.3" stroke="#e3e3e3" stroke-width="0.8"/>
<line x1="554.3" y1="465.5" x2="554.3" y2="660.3" stroke="#e3e3e3" stroke-width="0.8"/>
<line x1="583.2" y1="465.5" x2="583.2" y2="660.3" stroke="#e3e3e3" stroke-width="0.8"/>
<line x1="612.7" y1="465.5" x2="612.7" y2="660.3" stroke="#e3e3e3" stroke-width="0.8"/>
<line x1="642.3" y1="465.5" x2="642.3" y2="660.3" stroke="#e3e3e3" stroke-width="0.8"/>
<path d="M496.60,590.20 C497.22,589.48 499.13,587.33 500.30,585.90 C501.47,584.47 502.52,583.77 503.60,581.60 C504.68,579.43 505.73,576.33 506.80,572.90 C507.87,569.47 509.00,565.32 510.00,561.00 C511.00,556.68 511.90,552.20 512.80,547.00 C513.70,541.80 514.60,534.83 515.40,529.80 C516.20,524.77 516.98,519.50 517.60,516.80 C518.22,514.10 518.63,513.23 519.10,513.60 C519.57,513.97 519.93,513.43 520.40,519.00 C520.87,524.57 521.40,534.42 521.90,547.00 C522.40,559.58 522.93,580.10 523.40,594.50 C523.87,608.90 524.23,624.77 524.70,633.40 C525.17,642.03 525.23,643.62 526.20,646.30 C527.17,648.98 529.05,649.22 530.50,649.50 C531.95,649.78 533.45,647.88 534.90,648.00 C536.35,648.12 537.42,649.58 539.20,650.20 C540.98,650.82 543.37,651.55 545.60,651.70 C547.83,651.85 550.80,651.57 552.60,651.10 C554.40,650.63 554.32,649.42 556.40,648.90 C558.48,648.38 562.22,648.07 565.10,648.00 C567.98,647.93 571.18,648.50 573.70,648.50 C576.22,648.50 578.68,648.55 580.20,648.00 C581.72,647.45 582.08,646.92 582.80,645.20 C583.52,643.48 584.08,640.75 584.50,637.70 C584.92,634.65 584.80,629.72 585.30,626.90 C585.80,624.08 586.42,621.88 587.50,620.80 C588.58,619.72 590.00,620.18 591.80,620.40 C593.60,620.62 596.32,621.38 598.30,622.10 C600.28,622.82 601.98,623.55 603.70,624.70 C605.42,625.85 607.35,626.83 608.60,629.00 C609.85,631.17 610.22,634.28 611.20,637.70 C612.18,641.12 613.05,647.88 614.50,649.50 C615.95,651.12 617.93,648.22 619.90,647.40 C621.87,646.58 624.15,645.78 626.30,644.60 C628.45,643.42 630.82,641.45 632.80,640.30 C634.78,639.15 636.77,639.22 638.20,637.70 C639.63,636.18 640.50,635.17 641.40,631.20 C642.30,627.23 642.87,620.02 643.60,613.90 C644.33,607.78 645.08,599.17 645.80,594.50 C646.52,589.83 647.18,587.77 647.90,585.90 C648.62,584.03 649.20,583.12 650.10,583.30 C651.00,583.48 651.68,584.77 653.30,587.00 C654.92,589.23 657.63,594.18 659.80,596.70 C661.97,599.22 664.43,600.92 666.30,602.10 C668.17,603.28 670.22,603.52 671.00,603.80" fill="none" stroke="#e0625b" stroke-width="1.5" stroke-linejoin="round"/>
<path d="M496.60,565.40 C497.03,564.50 498.22,561.80 499.20,560.00 C500.18,558.20 501.52,556.40 502.50,554.60 C503.48,552.80 504.20,551.72 505.10,549.20 C506.00,546.68 506.97,543.10 507.90,539.50 C508.83,535.90 509.80,532.10 510.70,527.60 C511.60,523.10 512.43,518.25 513.30,512.50 C514.17,506.75 515.18,498.85 515.90,493.10 C516.62,487.35 517.10,481.17 517.60,478.00 C518.10,474.83 518.47,473.75 518.90,474.10 C519.33,474.45 519.77,474.42 520.20,480.10 C520.63,485.78 521.07,495.60 521.50,508.20 C521.93,520.80 522.37,539.52 522.80,555.70 C523.23,571.88 523.67,592.00 524.10,605.30 C524.53,618.60 524.98,629.10 525.40,635.50 C525.82,641.90 525.75,642.25 526.60,643.70 C527.45,645.15 529.42,644.30 530.50,644.20 C531.58,644.10 532.20,642.82 533.10,643.10 C534.00,643.38 534.88,645.55 535.90,645.90 C536.92,646.25 538.30,645.57 539.20,645.20 C540.10,644.83 540.40,643.33 541.30,643.70 C542.20,644.07 543.33,646.97 544.60,647.40 C545.87,647.83 547.57,646.30 548.90,646.30 C550.23,646.30 551.35,647.75 552.60,647.40 C553.85,647.05 554.68,644.82 556.40,644.20 C558.12,643.58 560.38,643.85 562.90,643.70 C565.42,643.55 568.62,643.58 571.50,643.30 C574.38,643.02 578.40,642.58 580.20,642.00 C582.00,641.42 581.58,641.97 582.30,639.80 C583.02,637.63 583.72,632.60 584.50,629.00 C585.28,625.40 585.78,620.07 587.00,618.20 C588.22,616.33 590.10,617.72 591.80,617.80 C593.50,617.88 595.40,618.27 597.20,618.70 C599.00,619.13 600.80,619.58 602.60,620.40 C604.40,621.22 606.63,622.17 608.00,623.60 C609.37,625.03 610.08,626.65 610.80,629.00 C611.52,631.35 611.68,635.00 612.30,637.70 C612.92,640.40 613.42,644.30 614.50,645.20 C615.58,646.10 617.18,643.92 618.80,643.10 C620.42,642.28 622.40,641.20 624.20,640.30 C626.00,639.40 627.80,638.93 629.60,637.70 C631.40,636.47 633.38,634.35 635.00,632.90 C636.62,631.45 638.23,630.72 639.30,629.00 C640.37,627.28 640.75,625.47 641.40,622.60 C642.05,619.73 642.65,617.20 643.20,611.80 C643.75,606.40 644.10,597.40 644.70,590.20 C645.30,583.00 645.90,573.93 646.80,568.60 C647.70,563.27 649.02,559.10 650.10,558.20 C651.18,557.30 652.05,561.10 653.30,563.20 C654.55,565.30 656.17,568.47 657.60,570.80 C659.03,573.13 660.57,575.30 661.90,577.20 C663.23,579.10 664.08,581.05 665.60,582.20 C667.12,583.35 670.10,583.78 671.00,584.10" fill="none" stroke="#1ccbf2" stroke-width="1.5" stroke-linejoin="round"/>
<rect x="496.6" y="465.5" width="174.69999999999993" height="194.79999999999995" fill="none" stroke="#505050" stroke-width="1.3"/>
<line x1="495.0" y1="528.7" x2="496.6" y2="528.7" stroke="#777" stroke-width="0.8"/>
<text transform="translate(492.2,532.8000000000001) scale(1,1.04)" font-size="11.8" text-anchor="end" font-weight="bold" fill="#000" >10</text>
<line x1="495.0" y1="602.1" x2="496.6" y2="602.1" stroke="#777" stroke-width="0.8"/>
<text transform="translate(492.2,606.2) scale(1,1.04)" font-size="11.8" text-anchor="end" font-weight="bold" fill="#000" >5</text>
<text x="502.4" y="672.8" font-size="11.6" text-anchor="middle" font-weight="bold" fill="#000" >-2k</text>
<text x="541.8" y="672.8" font-size="11.8" text-anchor="middle" font-weight="bold" fill="#000" >5’UTR</text>
<text x="580.1" y="672.8" font-size="11.8" text-anchor="middle" font-weight="bold" fill="#000" >exon</text>
<text x="614.3" y="672.8" font-size="11.8" text-anchor="middle" font-weight="bold" fill="#000" >intron</text>
<text x="651.3" y="672.8" font-size="11.8" text-anchor="middle" font-weight="bold" fill="#000" >3’UTR</text>
<line x1="118.4" y1="690.2" x2="118.4" y2="884.4" stroke="#e3e3e3" stroke-width="0.8"/>
<line x1="170.6" y1="690.2" x2="170.6" y2="884.4" stroke="#e3e3e3" stroke-width="0.8"/>
<path d="M65.60,876.10 C66.33,875.83 68.55,875.30 70.00,874.50 C71.45,873.70 72.87,872.55 74.30,871.30 C75.73,870.05 77.17,868.43 78.60,867.00 C80.03,865.57 81.47,864.22 82.90,862.70 C84.33,861.18 85.58,859.35 87.20,857.90 C88.82,856.45 90.80,855.72 92.60,854.00 C94.40,852.28 96.38,850.12 98.00,847.60 C99.62,845.08 100.87,842.15 102.30,838.90 C103.73,835.65 105.15,832.42 106.60,828.10 C108.05,823.78 109.73,818.03 111.00,813.00 C112.27,807.97 113.30,804.02 114.20,797.90 C115.10,791.78 115.75,783.48 116.40,776.30 C117.05,769.12 117.50,761.98 118.10,754.80 C118.70,747.62 119.47,738.68 120.00,733.20 C120.53,727.72 120.37,723.70 121.30,721.90 C122.23,720.10 124.27,721.67 125.60,722.40 C126.93,723.13 128.15,725.15 129.30,726.30 C130.45,727.45 131.23,728.45 132.50,729.30 C133.77,730.15 135.27,731.12 136.90,731.40 C138.53,731.68 140.55,730.88 142.30,731.00 C144.05,731.12 145.65,731.82 147.40,732.10 C149.15,732.38 150.82,732.95 152.80,732.70 C154.78,732.45 157.50,731.42 159.30,730.60 C161.10,729.78 162.17,728.98 163.60,727.80 C165.03,726.62 166.90,721.88 167.90,723.50 C168.90,725.12 168.98,731.22 169.60,737.50 C170.22,743.78 170.92,752.93 171.60,761.20 C172.28,769.47 172.95,779.18 173.70,787.10 C174.45,795.02 175.08,802.93 176.10,808.70 C177.12,814.47 178.47,817.38 179.80,821.70 C181.13,826.02 182.48,830.28 184.10,834.60 C185.72,838.92 187.70,844.28 189.50,847.60 C191.30,850.92 193.10,852.78 194.90,854.50 C196.70,856.22 198.50,856.53 200.30,857.90 C202.10,859.27 203.73,861.37 205.70,862.70 C207.67,864.03 209.95,864.75 212.10,865.90 C214.25,867.05 216.68,869.05 218.60,869.60 C220.52,870.15 222.77,869.27 223.60,869.20" fill="none" stroke="#e0625b" stroke-width="1.5" stroke-linejoin="round"/>
<path d="M65.60,852.30 C66.33,851.87 68.55,850.67 70.00,849.70 C71.45,848.73 72.87,847.58 74.30,846.50 C75.73,845.42 77.17,844.38 78.60,843.20 C80.03,842.02 81.47,840.65 82.90,839.40 C84.33,838.15 85.77,836.85 87.20,835.70 C88.63,834.55 90.05,833.77 91.50,832.50 C92.95,831.23 94.45,829.90 95.90,828.10 C97.35,826.30 98.77,824.22 100.20,821.70 C101.63,819.18 103.07,816.25 104.50,813.00 C105.93,809.75 107.55,806.15 108.80,802.20 C110.05,798.25 111.10,793.62 112.00,789.30 C112.90,784.98 113.58,781.33 114.20,776.30 C114.82,771.27 115.17,766.28 115.70,759.10 C116.23,751.92 116.82,741.12 117.40,733.20 C117.98,725.28 118.55,717.28 119.20,711.60 C119.85,705.92 120.23,700.97 121.30,699.10 C122.37,697.23 124.27,699.75 125.60,700.40 C126.93,701.05 128.07,702.15 129.30,703.00 C130.53,703.85 131.73,704.78 133.00,705.50 C134.27,706.22 135.35,706.93 136.90,707.30 C138.45,707.67 140.37,707.53 142.30,707.70 C144.23,707.87 146.38,708.12 148.50,708.30 C150.62,708.48 153.20,708.97 155.00,708.80 C156.80,708.63 157.87,707.92 159.30,707.30 C160.73,706.68 162.17,705.75 163.60,705.10 C165.03,704.45 166.90,701.23 167.90,703.40 C168.90,705.57 169.02,712.07 169.60,718.10 C170.18,724.13 170.78,732.05 171.40,739.60 C172.02,747.15 172.62,755.83 173.30,763.40 C173.98,770.97 174.60,778.88 175.50,785.00 C176.40,791.12 177.45,795.43 178.70,800.10 C179.95,804.77 181.38,808.87 183.00,813.00 C184.62,817.13 186.60,821.83 188.40,824.90 C190.20,827.97 192.00,829.78 193.80,831.40 C195.60,833.02 197.40,833.27 199.20,834.60 C201.00,835.93 202.62,838.13 204.60,839.40 C206.58,840.67 208.95,841.13 211.10,842.20 C213.25,843.27 215.42,845.20 217.50,845.80 C219.58,846.40 222.58,845.80 223.60,845.80" fill="none" stroke="#1ccbf2" stroke-width="1.5" stroke-linejoin="round"/>
<rect x="57.8" y="690.2" width="174.2" height="194.19999999999993" fill="none" stroke="#505050" stroke-width="1.3"/>
<line x1="56.199999999999996" y1="693.9" x2="57.8" y2="693.9" stroke="#777" stroke-width="0.8"/>
<text transform="translate(54.5,698.0) scale(1,1.04)" font-size="11.8" text-anchor="end" font-weight="bold" fill="#000" >93</text>
<line x1="56.199999999999996" y1="773.6" x2="57.8" y2="773.6" stroke="#777" stroke-width="0.8"/>
<text transform="translate(54.5,777.7) scale(1,1.04)" font-size="11.8" text-anchor="end" font-weight="bold" fill="#000" >91</text>
<line x1="56.199999999999996" y1="853.3" x2="57.8" y2="853.3" stroke="#777" stroke-width="0.8"/>
<text transform="translate(54.5,857.4) scale(1,1.04)" font-size="11.8" text-anchor="end" font-weight="bold" fill="#000" >89</text>
<text x="66.7" y="902.2" font-size="13.2" text-anchor="middle" font-weight="bold" fill="#000" >-2k</text>
<text x="142.9" y="902.2" font-size="13.2" text-anchor="middle" font-weight="bold" fill="#000" >TE</text>
<text x="224.4" y="902.2" font-size="13.2" text-anchor="middle" font-weight="bold" fill="#000" >+2k</text>
<text transform="translate(21.8,791) rotate(-90)" font-size="13.85" text-anchor="middle" font-weight="bold">Methylation rate (%)</text>
<line x1="338.3" y1="691.5" x2="338.3" y2="884.6" stroke="#e3e3e3" stroke-width="0.8"/>
<line x1="390.3" y1="691.5" x2="390.3" y2="884.6" stroke="#e3e3e3" stroke-width="0.8"/>
<path d="M285.60,873.00 C286.33,872.72 288.55,871.95 290.00,871.30 C291.45,870.65 292.87,869.72 294.30,869.10 C295.73,868.48 297.23,867.60 298.60,867.60 C299.97,867.60 301.25,868.42 302.50,869.10 C303.75,869.78 304.77,871.05 306.10,871.70 C307.43,872.35 309.05,873.43 310.50,873.00 C311.95,872.57 313.37,870.63 314.80,869.10 C316.23,867.57 317.67,865.17 319.10,863.80 C320.53,862.43 321.97,861.80 323.40,860.90 C324.83,860.00 326.27,859.72 327.70,858.40 C329.13,857.08 330.88,854.80 332.00,853.00 C333.12,851.20 333.78,851.75 334.40,847.60 C335.02,843.45 335.20,836.38 335.70,828.10 C336.20,819.82 336.75,807.97 337.40,797.90 C338.05,787.83 338.95,774.88 339.60,767.70 C340.25,760.52 340.77,756.07 341.30,754.80 C341.83,753.53 342.18,757.58 342.80,760.10 C343.42,762.62 344.28,768.35 345.00,769.90 C345.72,771.45 346.38,771.20 347.10,769.40 C347.82,767.60 348.57,762.62 349.30,759.10 C350.03,755.58 350.67,751.72 351.50,748.30 C352.33,744.88 353.33,740.68 354.30,738.60 C355.27,736.52 356.33,736.05 357.30,735.80 C358.27,735.55 359.25,736.15 360.10,737.10 C360.95,738.05 361.55,741.00 362.40,741.50 C363.25,742.00 364.18,740.95 365.20,740.10 C366.22,739.25 367.42,737.85 368.50,736.40 C369.58,734.95 370.70,732.48 371.70,731.40 C372.70,730.32 373.53,729.78 374.50,729.90 C375.47,730.02 376.53,731.02 377.50,732.10 C378.47,733.18 379.40,734.60 380.30,736.40 C381.20,738.20 382.07,740.02 382.90,742.90 C383.73,745.78 384.65,750.65 385.30,753.70 C385.95,756.75 386.37,760.30 386.80,761.20 C387.23,762.10 387.47,756.58 387.90,759.10 C388.33,761.62 388.87,769.12 389.40,776.30 C389.93,783.48 390.52,792.83 391.10,802.20 C391.68,811.57 392.35,823.07 392.90,832.50 C393.45,841.93 393.80,854.07 394.40,858.80 C395.00,863.53 395.60,859.53 396.50,860.90 C397.40,862.27 398.53,865.55 399.80,867.00 C401.07,868.45 402.67,868.60 404.10,869.60 C405.53,870.60 406.97,871.92 408.40,873.00 C409.83,874.08 411.27,875.92 412.70,876.10 C414.13,876.28 415.38,874.62 417.00,874.10 C418.62,873.58 420.42,872.93 422.40,873.00 C424.38,873.07 426.73,874.20 428.90,874.50 C431.07,874.80 432.95,875.05 435.40,874.80 C437.85,874.55 442.23,873.30 443.60,873.00" fill="none" stroke="#e0625b" stroke-width="1.5" stroke-linejoin="round"/>
<path d="M285.60,847.10 C286.33,846.82 288.55,845.97 290.00,845.40 C291.45,844.83 292.87,844.07 294.30,843.70 C295.73,843.33 297.23,842.85 298.60,843.20 C299.97,843.55 301.25,844.78 302.50,845.80 C303.75,846.82 304.77,848.47 306.10,849.30 C307.43,850.13 309.05,851.17 310.50,850.80 C311.95,850.43 313.37,848.72 314.80,847.10 C316.23,845.48 317.67,842.75 319.10,841.10 C320.53,839.45 321.97,838.17 323.40,837.20 C324.83,836.23 326.27,836.45 327.70,835.30 C329.13,834.15 330.88,832.03 332.00,830.30 C333.12,828.57 333.78,829.22 334.40,824.90 C335.02,820.58 335.20,813.22 335.70,804.40 C336.20,795.58 336.82,782.07 337.40,772.00 C337.98,761.93 338.58,751.27 339.20,744.00 C339.82,736.73 340.50,729.85 341.10,728.40 C341.70,726.95 342.15,733.07 342.80,735.30 C343.45,737.53 344.28,740.90 345.00,741.80 C345.72,742.70 346.38,742.50 347.10,740.70 C347.82,738.90 348.57,734.42 349.30,731.00 C350.03,727.58 350.67,723.62 351.50,720.20 C352.33,716.78 353.33,712.77 354.30,710.50 C355.27,708.23 356.33,707.07 357.30,706.60 C358.27,706.13 359.25,706.80 360.10,707.70 C360.95,708.60 361.55,711.53 362.40,712.00 C363.25,712.47 364.18,711.47 365.20,710.50 C366.22,709.53 367.42,707.82 368.50,706.20 C369.58,704.58 370.70,701.88 371.70,700.80 C372.70,699.72 373.53,699.33 374.50,699.70 C375.47,700.07 376.53,701.57 377.50,703.00 C378.47,704.43 379.40,706.15 380.30,708.30 C381.20,710.45 382.10,713.20 382.90,715.90 C383.70,718.60 384.45,721.62 385.10,724.50 C385.75,727.38 386.33,732.40 386.80,733.20 C387.27,734.00 387.53,728.23 387.90,729.30 C388.27,730.37 388.57,734.28 389.00,739.60 C389.43,744.92 389.97,752.92 390.50,761.20 C391.03,769.48 391.63,779.58 392.20,789.30 C392.77,799.02 393.47,811.52 393.90,819.50 C394.33,827.48 394.37,834.03 394.80,837.20 C395.23,840.37 395.67,837.32 396.50,838.50 C397.33,839.68 398.53,842.87 399.80,844.30 C401.07,845.73 402.67,846.20 404.10,847.10 C405.53,848.00 406.97,848.72 408.40,849.70 C409.83,850.68 411.27,852.82 412.70,853.00 C414.13,853.18 415.38,851.35 417.00,850.80 C418.62,850.25 420.42,849.80 422.40,849.70 C424.38,849.60 426.73,850.20 428.90,850.20 C431.07,850.20 432.95,850.13 435.40,849.70 C437.85,849.27 442.23,847.95 443.60,847.60" fill="none" stroke="#1ccbf2" stroke-width="1.5" stroke-linejoin="round"/>
<rect x="277.7" y="691.5" width="173.3" height="193.10000000000002" fill="none" stroke="#505050" stroke-width="1.3"/>
<line x1="276.09999999999997" y1="724.5" x2="277.7" y2="724.5" stroke="#777" stroke-width="0.8"/>
<text transform="translate(274.9,728.6) scale(1,1.04)" font-size="11.8" text-anchor="end" font-weight="bold" fill="#000" >66</text>
<line x1="276.09999999999997" y1="778.5" x2="277.7" y2="778.5" stroke="#777" stroke-width="0.8"/>
<text transform="translate(274.9,782.6) scale(1,1.04)" font-size="11.8" text-anchor="end" font-weight="bold" fill="#000" >64</text>
<line x1="276.09999999999997" y1="833" x2="277.7" y2="833" stroke="#777" stroke-width="0.8"/>
<text transform="translate(274.9,837.1) scale(1,1.04)" font-size="11.8" text-anchor="end" font-weight="bold" fill="#000" >62</text>
<text x="283.9" y="902.2" font-size="13.2" text-anchor="middle" font-weight="bold" fill="#000" >-2k</text>
<text x="360.1" y="902.2" font-size="13.2" text-anchor="middle" font-weight="bold" fill="#000" >TE</text>
<text x="441.2" y="902.2" font-size="13.2" text-anchor="middle" font-weight="bold" fill="#000" >+2k</text>
<line x1="558.8" y1="690.3" x2="558.8" y2="883.3" stroke="#e3e3e3" stroke-width="0.8"/>
<line x1="610.5" y1="690.3" x2="610.5" y2="883.3" stroke="#e3e3e3" stroke-width="0.8"/>
<path d="M505.60,841.50 C506.33,841.37 508.55,841.20 510.00,840.70 C511.45,840.20 512.87,839.33 514.30,838.50 C515.73,837.67 516.98,837.07 518.60,835.70 C520.22,834.33 522.02,831.57 524.00,830.30 C525.98,829.03 528.52,829.00 530.50,828.10 C532.48,827.20 534.12,826.15 535.90,824.90 C537.68,823.65 539.58,822.22 541.20,820.60 C542.82,818.98 544.27,817.53 545.60,815.20 C546.93,812.87 548.13,809.83 549.20,806.60 C550.27,803.37 551.13,798.97 552.00,795.80 C552.87,792.63 553.67,787.97 554.40,787.60 C555.13,787.23 555.72,789.72 556.40,793.60 C557.08,797.48 557.78,804.78 558.50,810.90 C559.22,817.02 559.98,824.55 560.70,830.30 C561.42,836.05 561.90,841.08 562.80,845.40 C563.70,849.72 564.83,852.60 566.10,856.20 C567.37,859.80 568.97,864.37 570.40,867.00 C571.83,869.63 573.08,871.35 574.70,872.00 C576.32,872.65 578.67,870.83 580.10,870.90 C581.53,870.97 582.15,871.80 583.30,872.40 C584.45,873.00 585.77,874.50 587.00,874.50 C588.23,874.50 589.37,873.12 590.70,872.40 C592.03,871.68 593.57,870.92 595.00,870.20 C596.43,869.48 598.03,868.82 599.30,868.10 C600.57,867.38 601.62,866.98 602.60,865.90 C603.58,864.82 604.48,864.30 605.20,861.60 C605.92,858.90 606.25,856.00 606.90,849.70 C607.55,843.40 608.38,831.72 609.10,823.80 C609.82,815.88 610.35,807.77 611.20,802.20 C612.05,796.63 613.30,791.30 614.20,790.40 C615.10,789.50 615.65,794.10 616.60,796.80 C617.55,799.50 618.63,803.72 619.90,806.60 C621.17,809.48 622.77,811.52 624.20,814.10 C625.63,816.68 627.07,819.40 628.50,822.10 C629.93,824.80 631.37,828.28 632.80,830.30 C634.23,832.32 635.48,833.12 637.10,834.20 C638.72,835.28 640.70,836.02 642.50,836.80 C644.30,837.58 646.28,838.25 647.90,838.90 C649.52,839.55 650.77,839.98 652.20,840.70 C653.63,841.42 654.62,842.60 656.50,843.20 C658.38,843.80 662.33,844.12 663.50,844.30" fill="none" stroke="#e0625b" stroke-width="1.5" stroke-linejoin="round"/>
<path d="M505.60,759.50 C506.33,759.25 508.55,758.72 510.00,758.00 C511.45,757.28 512.87,756.22 514.30,755.20 C515.73,754.18 516.98,752.98 518.60,751.90 C520.22,750.82 522.02,749.58 524.00,748.70 C525.98,747.82 528.52,747.57 530.50,746.60 C532.48,745.63 534.12,744.35 535.90,742.90 C537.68,741.45 539.58,739.70 541.20,737.90 C542.82,736.10 544.33,734.33 545.60,732.10 C546.87,729.87 547.83,727.57 548.80,724.50 C549.77,721.43 550.68,716.93 551.40,713.70 C552.12,710.47 552.60,707.43 553.10,705.10 C553.60,702.77 553.97,699.52 554.40,699.70 C554.83,699.88 555.20,702.42 555.70,706.20 C556.20,709.98 556.82,716.10 557.40,722.40 C557.98,728.70 558.65,736.82 559.20,744.00 C559.75,751.18 560.10,759.03 560.70,765.50 C561.30,771.97 561.98,778.30 562.80,782.80 C563.62,787.30 564.52,789.62 565.60,792.50 C566.68,795.38 567.97,797.75 569.30,800.10 C570.63,802.45 571.98,805.17 573.60,806.60 C575.22,808.03 577.38,807.98 579.00,808.70 C580.62,809.42 581.97,810.00 583.30,810.90 C584.63,811.80 585.77,813.82 587.00,814.10 C588.23,814.38 589.53,813.22 590.70,812.60 C591.87,811.98 592.73,810.87 594.00,810.40 C595.27,809.93 596.93,810.33 598.30,809.80 C599.67,809.27 601.05,808.28 602.20,807.20 C603.35,806.12 604.42,805.57 605.20,803.30 C605.98,801.03 606.33,799.90 606.90,793.60 C607.47,787.30 608.02,774.85 608.60,765.50 C609.18,756.15 609.78,746.13 610.40,737.50 C611.02,728.87 611.67,719.28 612.30,713.70 C612.93,708.12 613.48,704.35 614.20,704.00 C614.92,703.65 615.65,708.53 616.60,711.60 C617.55,714.67 618.63,718.98 619.90,722.40 C621.17,725.82 622.77,729.05 624.20,732.10 C625.63,735.15 627.07,738.00 628.50,740.70 C629.93,743.40 631.37,746.13 632.80,748.30 C634.23,750.47 635.48,752.20 637.10,753.70 C638.72,755.20 640.88,756.40 642.50,757.30 C644.12,758.20 645.37,758.73 646.80,759.10 C648.23,759.47 649.65,759.15 651.10,759.50 C652.55,759.85 654.05,760.62 655.50,761.20 C656.95,761.78 658.47,762.70 659.80,763.00 C661.13,763.30 662.88,763.00 663.50,763.00" fill="none" stroke="#1ccbf2" stroke-width="1.5" stroke-linejoin="round"/>
<rect x="498.2" y="690.3" width="173.00000000000006" height="193.0" fill="none" stroke="#505050" stroke-width="1.3"/>
<line x1="496.59999999999997" y1="723" x2="498.2" y2="723" stroke="#777" stroke-width="0.8"/>
<text transform="translate(494.1,727.1) scale(1,1.04)" font-size="11.8" text-anchor="end" font-weight="bold" fill="#000" >3.75</text>
<line x1="496.59999999999997" y1="771.2" x2="498.2" y2="771.2" stroke="#777" stroke-width="0.8"/>
<text transform="translate(494.1,775.3000000000001) scale(1,1.04)" font-size="11.8" text-anchor="end" font-weight="bold" fill="#000" >3.50</text>
<line x1="496.59999999999997" y1="819.4" x2="498.2" y2="819.4" stroke="#777" stroke-width="0.8"/>
<text transform="translate(494.1,823.5) scale(1,1.04)" font-size="11.8" text-anchor="end" font-weight="bold" fill="#000" >3.25</text>
<line x1="496.59999999999997" y1="867.6" x2="498.2" y2="867.6" stroke="#777" stroke-width="0.8"/>
<text transform="translate(494.1,871.7) scale(1,1.04)" font-size="11.8" text-anchor="end" font-weight="bold" fill="#000" >3.00</text>
<text x="506" y="902.2" font-size="13.2" text-anchor="middle" font-weight="bold" fill="#000" >-2k</text>
<text x="582.8" y="902.2" font-size="13.2" text-anchor="middle" font-weight="bold" fill="#000" >TE</text>
<text x="663.9" y="902.2" font-size="13.2" text-anchor="middle" font-weight="bold" fill="#000" >+2k</text>
<line x1="55.8" y1="733.7" x2="57.8" y2="733.7" stroke="#777" stroke-width="0.8"/>
<line x1="55.8" y1="813.4" x2="57.8" y2="813.4" stroke="#777" stroke-width="0.8"/>
</svg>
</body></html>
